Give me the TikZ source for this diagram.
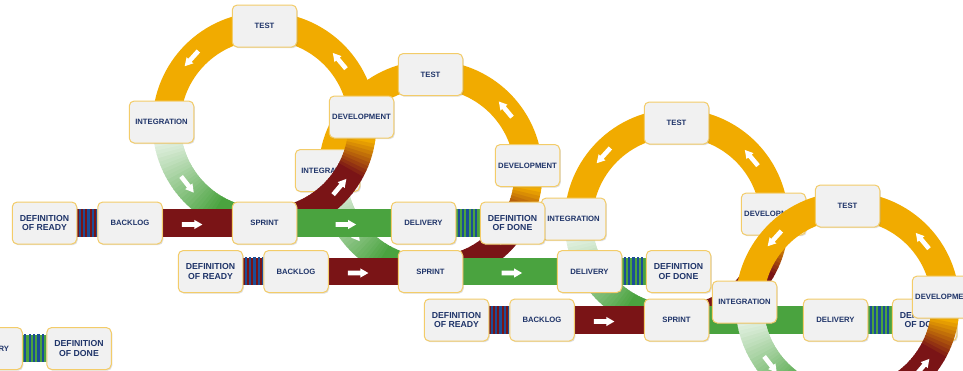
\documentclass[tikz,border=0pt]{standalone}
\usepackage{fontspec}
\setmainfont{Liberation Sans}
\usetikzlibrary{calc,shadows}
\definecolor{orng}{RGB}{241,171,0}
\definecolor{dred}{RGB}{122,20,22}
\definecolor{grn}{RGB}{74,163,63}
\definecolor{sblue}{RGB}{28,78,150}
\definecolor{boxfill}{RGB}{241,241,241}
\definecolor{boxline}{RGB}{243,204,105}
\definecolor{navy}{RGB}{31,52,105}
\pgfdeclarelayer{u0b}\pgfdeclarelayer{u0c}
\pgfdeclarelayer{u3a}\pgfdeclarelayer{u3b}\pgfdeclarelayer{u3c}
\pgfdeclarelayer{u4a}\pgfdeclarelayer{u4c}
\pgfdeclarelayer{u2a}\pgfdeclarelayer{u2b}\pgfdeclarelayer{u2c}
\pgfdeclarelayer{u1a}\pgfdeclarelayer{u1b}\pgfdeclarelayer{u1c}
\pgfsetlayers{u0b,u0c,u3a,u3b,u3c,u4a,u4c,u2a,u2b,u2c,u1a,u1b,u1c,main}
\tikzset{
 box/.style={rounded corners=5pt, draw=boxline, line width=1pt, fill=boxfill,
   minimum width=64.5pt, minimum height=42pt, inner sep=1pt, align=center,
   text=navy, font=\fontsize{7.7}{9.2}\selectfont\bfseries,
   drop shadow={shadow xshift=1pt, shadow yshift=-1.2pt, opacity=.25}},
 twoline/.style={font=\fontsize{8.7}{9.2}\selectfont\bfseries},
 bar/.style={line width=27.5pt},
 ringband/.style={line width=28pt}
}
\newcommand\wharrow{\fill[white] (-10,-2.3) -- (2.5,-2.3) -- (2.5,-4.6) -- (10.5,0) -- (2.5,4.6) -- (2.5,2.3) -- (-10,2.3) -- cycle;}
\newcommand\stripes{\foreach \k in {0,...,5}{\fill[sblue] ([xshift=\k*4.4pt+1.4pt]path picture bounding box.south west) rectangle ++(2.2pt,30pt);}}
\newcommand\ringat[2]{%
\begin{scope}[shift={(#1,#2)}]
 \draw[orng, ringband] (180:98) arc[start angle=180, end angle=360.5, radius=98];
 \foreach \ang in {0,2,...,88}{%
  \pgfmathtruncatemacro\pc{max(0,min(100,(28-\ang)*5))}%
  \draw[orng!\pc!dred, ringband] (\ang:98) arc[start angle=\ang, end angle=\ang+2.6, radius=98];}
 \foreach \ang in {90,92,...,178}{%
  \pgfmathtruncatemacro\pc{max(8,min(100,(178-\ang)*100/60))}%
  \draw[grn!\pc!white, ringband] (\ang:98) arc[start angle=\ang, end angle=\ang+2.6, radius=98];}
 \foreach \ang/\rot in {320/130,222/228,142/308,40/50}{%
  \begin{scope}[shift={(\ang:98)}, rotate=\rot]\wharrow\end{scope}}
\end{scope}}
\newcommand\highrow[3]{%
 \node[box] (ts#1) at (#2,#3-197) {TEST};
 \node[box] (in#1) at (#2-103,#3-101) {INTEGRATION};
 \node[box] (dv#1) at (#2+97,#3-106) {DEVELOPMENT};}
\newcommand\lowrow[3]{%
 \node[box,twoline] (dr#1) at (#2-220,#3) {DEFINITION\\OF READY};
 \node[box] (bk#1) at (#2-134.5,#3) {BACKLOG};
 \node[box] (sp#1) at (#2,#3) {SPRINT};
 \node[box] (dl#1) at (#2+159,#3) {DELIVERY};
 \node[box,twoline] (dd#1) at (#2+248,#3) {DEFINITION\\OF DONE};}
\newcommand\lowbars[1]{%
 \path[fill=dred, path picture={\stripes}] ([yshift=13.75pt]dr#1.east) rectangle ([yshift=-13.75pt]bk#1.west);
 \draw[dred, bar] (bk#1) -- (sp#1);
 \draw[grn, bar] (sp#1) -- (dl#1);
 \path[fill=grn, path picture={\stripes}] ([yshift=13.75pt]dl#1.east) rectangle ([yshift=-13.75pt]dd#1.west);
 \begin{scope}[shift={($(bk#1)!0.46!(sp#1)$)}, yshift=-1.5pt]\wharrow\end{scope}
 \begin{scope}[shift={($(sp#1)!0.51!(dl#1)$)}, yshift=-1.5pt]\wharrow\end{scope}}
\begin{document}
\begin{tikzpicture}[x=1pt,y=-1pt]
\useasboundingbox (0,0) rectangle (963,370);
% unit 0 (bottom-left, mostly outside)
\begin{pgfonlayer}{u0b}
 \fill[white] (0,0) rectangle (963,370);
\end{pgfonlayer}
\begin{pgfonlayer}{u0c}
 \node[box] (dl0) at (-10,348.5) {DELIVERY};
 \node[box,twoline] (dd0) at (79,348.5) {DEFINITION\\OF DONE};
\end{pgfonlayer}
\begin{pgfonlayer}{u0b}
 \path[fill=grn, path picture={\stripes}] ([yshift=13.75pt]dl0.east) rectangle ([yshift=-13.75pt]dd0.west);
\end{pgfonlayer}
% unit 3
\begin{pgfonlayer}{u3c}\highrow{3}{676.5}{320}\lowrow{3}{676.5}{320}\end{pgfonlayer}
\begin{pgfonlayer}{u3b}\lowbars{3}\end{pgfonlayer}
\begin{pgfonlayer}{u3a}\ringat{676.5}{221}\end{pgfonlayer}
% unit 4
\begin{pgfonlayer}{u4c}\highrow{4}{847.5}{403}\end{pgfonlayer}
\begin{pgfonlayer}{u4a}\ringat{847.5}{304}\end{pgfonlayer}
% unit 2
\begin{pgfonlayer}{u2c}\highrow{2}{430.5}{271.5}\lowrow{2}{430.5}{271.5}\end{pgfonlayer}
\begin{pgfonlayer}{u2b}\lowbars{2}\end{pgfonlayer}
\begin{pgfonlayer}{u2a}\ringat{430.5}{172.5}\end{pgfonlayer}
% unit 1
\begin{pgfonlayer}{u1c}\highrow{1}{264.5}{223}\lowrow{1}{264.5}{223}\end{pgfonlayer}
\begin{pgfonlayer}{u1b}\lowbars{1}\end{pgfonlayer}
\begin{pgfonlayer}{u1a}\ringat{264.5}{124}\end{pgfonlayer}
\end{tikzpicture}
\end{document}
